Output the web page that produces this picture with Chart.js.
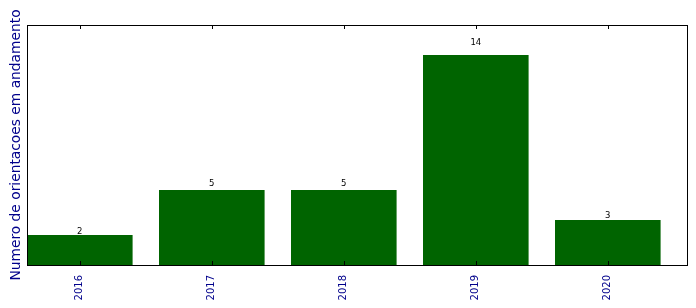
<!DOCTYPE html>
<html>
<head>
<meta charset="utf-8">
<script src="https://cdn.jsdelivr.net/npm/chart.js@4"></script>
<style>
  html, body { margin: 0; padding: 0; background: #fff; }
  #wrap { width: 696px; height: 308px; }
</style>
</head>
<body>
<div id="wrap"><canvas id="grafico"></canvas></div>
<script>
// anos e numero de orientacoes em andamento
const anos = ['2016', '2017', '2018', '2019', '2020'];
const orientacoes = [2, 5, 5, 14, 3];
const yMax = 16;

const corBarra = '#006400';
const corTexto = '#00008B';

// valores em cima de cada barra (a 1.05 x altura, como no original)
const rotulosBarras = {
  id: 'rotulosBarras',
  afterDatasetsDraw(chart) {
    const ctx = chart.ctx;
    const meta = chart.getDatasetMeta(0);
    const y = chart.scales.y;
    ctx.save();
    ctx.font = '8.5px "DejaVu Sans"';
    ctx.fillStyle = '#000';
    ctx.textAlign = 'center';
    ctx.textBaseline = 'alphabetic';
    meta.data.forEach((barra, i) => {
      ctx.fillText(String(orientacoes[i]), barra.x, y.getPixelForValue(orientacoes[i] * 1.05));
    });
    ctx.restore();
  }
};

// moldura e marcas internas (estilo matplotlib)
const moldura = {
  id: 'moldura',
  afterDraw(chart) {
    const { ctx, chartArea: a } = chart;
    const x = chart.scales.x;
    ctx.save();
    ctx.strokeStyle = '#000';
    ctx.lineWidth = 1;
    x.ticks.forEach(t => {
      const px = Math.round(x.getPixelForValue(t.value)) + 0.5;
      ctx.beginPath();
      ctx.moveTo(px, a.bottom); ctx.lineTo(px, a.bottom - 4);
      ctx.moveTo(px, a.top); ctx.lineTo(px, a.top + 4);
      ctx.stroke();
    });
    ctx.strokeRect(a.left + 0.5, a.top + 0.5, a.right - a.left, a.bottom - a.top);
    ctx.restore();
  }
};

new Chart(document.getElementById('grafico'), {
  type: 'bar',
  data: {
    datasets: [{
      data: orientacoes.map((v, i) => ({ x: i, y: v })),
      backgroundColor: corBarra,
      borderWidth: 0,
      barPercentage: 1,
      categoryPercentage: 0.8
    }]
  },
  options: {
    responsive: true,
    maintainAspectRatio: false,
    animation: false,
    layout: { padding: { top: 25, right: 9, left: 0, bottom: 0 } },
    plugins: {
      legend: { display: false },
      tooltip: { enabled: false }
    },
    scales: {
      x: {
        type: 'linear',
        offset: false,
        min: -0.4,
        max: 4.6,
        afterBuildTicks: (s) => { s.ticks = anos.map((_, i) => ({ value: i })); },
        afterFit: (s) => { s.height = 43; },
        grid: { display: false },
        border: { display: false },
        ticks: {
          callback: (v) => anos[v],
          color: corTexto,
          font: { family: 'DejaVu Sans', size: 10 },
          minRotation: 90,
          maxRotation: 90,
          padding: 2
        }
      },
      y: {
        min: 0,
        max: yMax,
        afterFit: (s) => { s.width = 27; },
        grid: { display: false },
        border: { display: false },
        ticks: { display: false },
        title: {
          display: true,
          text: 'Numero de orientacoes em andamento',
          color: corTexto,
          font: { family: 'DejaVu Sans', size: 13.8 },
          padding: { top: 8, bottom: 0 }
        }
      }
    }
  },
  plugins: [rotulosBarras, moldura]
});
</script>
</body>
</html>
